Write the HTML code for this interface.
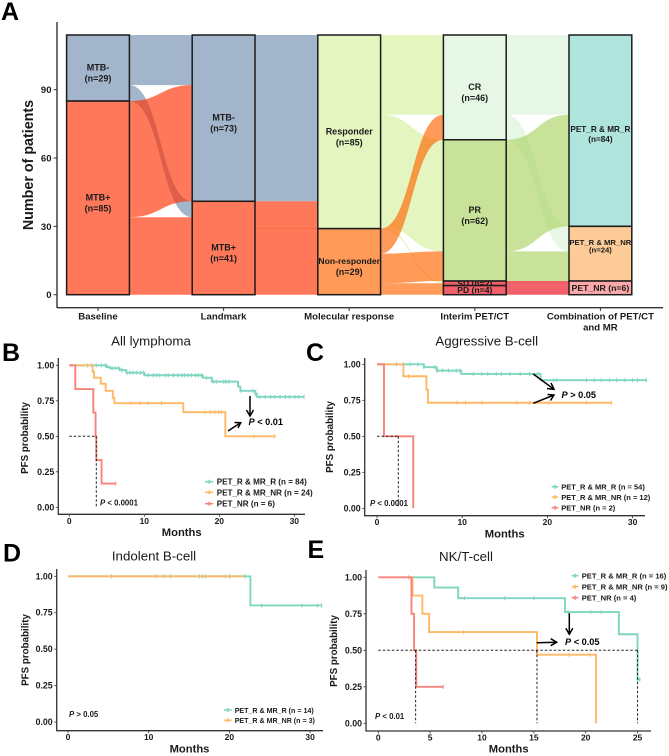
<!DOCTYPE html>
<html>
<head>
<meta charset="utf-8">
<style>
html,body{margin:0;padding:0;background:#fff;width:669px;height:756px;overflow:hidden}
svg{display:block;filter:blur(0.3px)}
text{font-family:"Liberation Sans",sans-serif;fill:#1a1a1a}
.b{font-weight:bold}
.panel{font-size:25px;font-weight:bold;fill:#000}
.title{font-size:13.3px;text-anchor:middle}
.mon{font-size:11.2px;font-weight:bold;text-anchor:middle}
.pfs{font-size:9.8px;font-weight:bold;text-anchor:middle}
.leg{font-size:8.1px;font-weight:bold}
.pv{font-size:7.8px;font-weight:bold}
.pb{font-size:9.2px;font-weight:bold;fill:#000}
.tk{font-size:9px;font-weight:bold}
.ax{font-size:9.6px;font-weight:bold;text-anchor:middle}
.arrow{fill:none;stroke:#000;stroke-width:1.5}
</style>
</head>
<body>
<svg id="fig" xmlns="http://www.w3.org/2000/svg" width="669" height="756" viewBox="0 0 669 756">
  <rect width="669" height="756" fill="#fff"/>

  <!-- Panel A -->
  <text class="panel" x="1" y="20">A</text>
  <g id="sankey"></g>
  <path d="M57 22V308M57 307.7H663" fill="none" stroke="#333" stroke-width="1.4"/>
  <text class="b" style="font-size:14.3px" text-anchor="middle" transform="translate(33,165) rotate(-90)">Number of patients</text>

  <!-- Panel B -->
  <text class="panel" x="2" y="361">B</text>
  <text class="title" x="151" y="345.5">All lymphoma</text>
  <g id="kmB"></g>
  <text class="pfs" transform="translate(28,438) rotate(-90)">PFS probability</text>
  <text class="mon" x="181.7" y="536">Months</text>
  <text class="pv" x="100" y="505.7"><tspan font-style="italic">P</tspan> &lt; 0.0001</text>
  <text class="pb" x="248.5" y="425"><tspan font-style="italic">P</tspan> &lt; 0.01</text>
  <path class="arrow" d="M250 396V416M246.5 410L250 416L253.500 410"/>
  <path class="arrow" d="M228 431L240.700 422.700M234.500 422.500L240.700 422.700L238 428"/>
  <g>
    <path d="M205 481.700H213.300M209.200 479.700V483.700" stroke="#7ed6c0" stroke-width="1.6"/>
    <text class="leg" x="216.700" y="484.700">PET_R &amp; MR_R (n = 84)</text>
    <path d="M205 492.300H213.300M209.200 490.300V494.300" stroke="#ffb866" stroke-width="1.6"/>
    <text class="leg" x="216.700" y="495.300">PET_R &amp; MR_NR (n = 24)</text>
    <path d="M205 503.700H213.300M209.200 501.700V505.700" stroke="#f8837a" stroke-width="1.6"/>
    <text class="leg" x="216.700" y="506.700">PET_NR (n = 6)</text>
  </g>

  <!-- Panel C -->
  <text class="panel" x="306" y="361">C</text>
  <text class="title" x="486.700" y="345.500">Aggressive B-cell</text>
  <g id="kmC"></g>
  <text class="pfs" transform="translate(333,437) rotate(-90)">PFS probability</text>
  <text class="mon" x="504.700" y="537.300">Months</text>
  <text class="pv" x="370" y="506"><tspan font-style="italic">P</tspan> &lt; 0.0001</text>
  <text class="pb" x="561.500" y="398"><tspan font-style="italic">P</tspan> &gt; 0.05</text>
  <path class="arrow" d="M533.300 374L554 389.300M547 388.500L554 389.300L551 383"/>
  <path class="arrow" d="M533.300 403.300L554 395M547.500 394.500L554 395L550.500 400.500"/>
  <g>
    <path d="M551.700 486.700H558.300M555 484.700V488.700" stroke="#7ed6c0" stroke-width="1.6"/>
    <text class="leg" style="font-size:7.500px" x="561.300" y="489.700">PET_R &amp; MR_R (n = 54)</text>
    <path d="M551.700 497H558.300M555 495V499" stroke="#ffb866" stroke-width="1.6"/>
    <text class="leg" style="font-size:7.500px" x="561.300" y="500">PET_R &amp; MR_NR (n = 12)</text>
    <path d="M551.700 507.700H558.300M555 505.700V509.700" stroke="#f8837a" stroke-width="1.6"/>
    <text class="leg" style="font-size:7.500px" x="561.300" y="510.700">PET_NR (n = 2)</text>
  </g>

  <!-- Panel D -->
  <text class="panel" x="3" y="561.500">D</text>
  <text class="title" x="154" y="560.500">Indolent B-cell</text>
  <g id="kmD"></g>
  <text class="pfs" transform="translate(28.500,650) rotate(-90)">PFS probability</text>
  <text class="mon" x="189.500" y="752.500">Months</text>
  <text class="pv" x="69" y="717"><tspan font-style="italic">P</tspan> &gt; 0.05</text>
  <g>
    <path d="M224 710H231.700M227.800 708V712" stroke="#7ed6c0" stroke-width="1.6"/>
    <text class="leg" style="font-size:7.100px" x="234.700" y="712.800">PET_R &amp; MR_R (n = 14)</text>
    <path d="M224 720.300H231.700M227.800 718.300V722.300" stroke="#ffb866" stroke-width="1.6"/>
    <text class="leg" style="font-size:7.100px" x="234.700" y="723.100">PET_R &amp; MR_NR (n = 3)</text>
  </g>

  <!-- Panel E -->
  <text class="panel" x="307.500" y="558">E</text>
  <text class="title" x="466" y="561">NK/T-cell</text>
  <g id="kmE"></g>
  <text class="pfs" transform="translate(337,651) rotate(-90)">PFS probability</text>
  <text class="mon" x="508.700" y="752.700">Months</text>
  <text class="pv" x="375" y="719"><tspan font-style="italic">P</tspan> &lt; 0.01</text>
  <text class="pb" x="565" y="645"><tspan font-style="italic">P</tspan> &lt; 0.05</text>
  <path class="arrow" d="M569.300 613.300V634.300M565.800 628.300L569.300 634.300L572.800 628.300"/>
  <path class="arrow" d="M536.700 642.700L556.700 642.200M550.700 638.700L556.700 642.200L550.700 645.700"/>
  <g>
    <path d="M571.700 575.700H578.300M575 573.700V577.700" stroke="#7ed6c0" stroke-width="1.6"/>
    <text class="leg" style="font-size:7.600px" x="581.700" y="578.500">PET_R &amp; MR_R (n = 16)</text>
    <path d="M571.700 586.700H578.300M575 584.700V588.700" stroke="#ffb866" stroke-width="1.6"/>
    <text class="leg" style="font-size:7.600px" x="581.700" y="589.500">PET_R &amp; MR_NR (n = 9)</text>
    <path d="M571.700 597.700H578.300M575 595.700V599.700" stroke="#f8837a" stroke-width="1.6"/>
    <text class="leg" style="font-size:7.600px" x="581.700" y="600.500">PET_NR (n = 4)</text>
  </g>
</svg>

<script>
/* ---------- Panel A data ---------- */
const sankeyAxes = ['Baseline', 'Landmark', 'Molecular response', 'Interim PET/CT', 'Combination of PET/CT|and MR'];
const sankeyTicks = [0, 30, 60, 90];
const baselineStrata = ['MTB-', 'MTB+'];
const baselineCounts = [29, 85];
const landmarkStrata = ['MTB-', 'MTB+'];
const landmarkCounts = [73, 41];
const molecularStrata = ['Responder', 'Non-responder'];
const molecularCounts = [85, 29];
const interimStrata = ['CR', 'PR', 'SD', 'PD'];
const interimCounts = [46, 62, 2, 4];
const comboStrata = ['PET_R & MR_R', 'PET_R & MR_NR', 'PET_NR'];
const comboCounts = [84, 24, 6];
const flowsBaselineLandmark = [['MTB-','MTB-',22], ['MTB-','MTB+',7], ['MTB+','MTB-',51], ['MTB+','MTB+',34]];
const flowsLandmarkMolecular = [['MTB-','Responder',73], ['MTB+','Responder',12], ['MTB+','Non-responder',29]];
const flowsMolecularInterim = [['Responder','CR',35], ['Responder','PR',49], ['Responder','SD',1], ['Non-responder','CR',11], ['Non-responder','PR',13], ['Non-responder','SD',1], ['Non-responder','PD',4]];
const flowsInterimCombo = [['CR','PET_R & MR_R',35], ['CR','PET_R & MR_NR',11], ['PR','PET_R & MR_R',49], ['PR','PET_R & MR_NR',13], ['SD','PET_NR',2], ['PD','PET_NR',4]];

/* ---------- Panel B data ---------- */
const kmTicksY = [0, 0.25, 0.5, 0.75, 1];
const kmTicksX = [0, 10, 20, 30];
const bTealTimes = [0, 5, 5.4, 6.7, 7.6, 10, 17.8, 19, 22.5, 22.8, 24.8, 25, 31.3];
const bTealSurv = [1, 0.988, 0.98, 0.966, 0.948, 0.93, 0.913, 0.885, 0.85, 0.82, 0.8, 0.778, 0.778];
const bTealCensor = [2.4,3,3.6,4.3,4.8,5.7,6.1,6.6,7,7.7,8.1,8.5,9,9.5,9.9,10.5,11.2,11.6,12,12.8,13.2,13.9,14.5,15,15.4,15.9,16.3,16.8,17.2,17.6,18.3,19.2,19.6,20.6,20.9,21.3,22.9,24.5,24.8,25.4,26.1,26.8,27.4,28.1,28.8,29.4,30.1,30.6,31.3];
const bOrangeTimes = [0, 3.1, 3.3, 4.2, 4.85, 5.8, 6, 15.2, 20.8, 27.5];
const bOrangeSurv = [1, 0.955, 0.913, 0.87, 0.82, 0.77, 0.733, 0.67, 0.5, 0.5];
const bOrangeCensor = [8.2,9.4,10.5,12.3,18.1,18.8,19.4,19.9,20.3,24.6,27.4];
const bRedTimes = [0, 0.8, 3.2, 3.5, 3.6, 4.3, 6.2];
const bRedSurv = [1, 0.833, 0.667, 0.5, 0.333, 0.167, 0.167];
const bRedCensor = [6.2];
const bMedians = [3.6];

/* ---------- Panel C data ---------- */
const cTealTimes = [0, 5.5, 7, 9.9, 19.2, 31.7];
const cTealSurv = [1, 0.98, 0.956, 0.933, 0.89, 0.89];
const cTealCensor = [2.3,3.1,3.9,4.8,5.5,6.8,7.1,7.7,8.4,9.3,9.7,11.3,12.3,13,14,14.6,15.6,16.8,17.9,18.9,20.7,21.1,24.6,25.5,26.3,27.3,28.1,29.1,30,30.6,31.6];
const cOrangeTimes = [0, 3.1, 5.8, 5.98, 27.6];
const cOrangeSurv = [1, 0.917, 0.824, 0.733, 0.733];
const cOrangeCensor = [3.7,9.4,10.4,12.3,16.4,17.9,20.1,24.6,27.5];
const cRedTimes = [0, 0.82, 4.25];
const cRedSurv = [1, 0.5, 0];
const cRedCensor = [];
const cMedians = [2.5];

/* ---------- Panel D data ---------- */
const dTealTimes = [0, 22.6, 31.5];
const dTealSurv = [1, 0.8, 0.8];
const dTealCensor = [5.4,10.9,11.9,12.7,16.3,16.7,17.1,19.5,20,21.9,24,29,30.9,31.4];
const dOrangeTimes = [0, 21.8];
const dOrangeSurv = [1, 1];
const dOrangeCensor = [];

/* ---------- Panel E data ---------- */
const eTicksX = [0, 5, 10, 15, 20, 25];
const eTealTimes = [2.8, 5.4, 7.7, 18, 23.2, 25, 25.3];
const eTealSurv = [1, 0.93, 0.857, 0.762, 0.61, 0.3, 0.3];
const eTealCensor = [8.3,12.2,15,18.3,20.5,21.5,25,25.2];
const eOrangeTimes = [2.9, 3.3, 4.25, 4.9, 15.3, 21];
const eOrangeSurv = [1, 0.875, 0.75, 0.625, 0.47, 0];
const eOrangeCensor = [2.9,8.2,18.4,20.4];
const eRedTimes = [0, 3.2, 3.45, 3.66, 6.27];
const eRedSurv = [1, 0.75, 0.5, 0.25, 0.25];
const eRedCensor = [6.27];
const eMedians = [3.6, 15.3, 25];

const NS = 'http://www.w3.org/2000/svg';
function mk(tag, parent) {
  const e = document.createElementNS(NS, tag);
  parent.appendChild(e);
  return e;
}
function slug(s) {
  return s.toLowerCase().replace(/[^a-z0-9]+/g, '-').replace(/^-|-$/g, '');
}

/* ---------- Panel A drawing ---------- */
const yA = v => 294.7 - 2.278 * v;
const xA = i => 98 + 125.6 * i;
const halfW = 31.4;
const fillOf = {
  'MTB-':'#708daf', 'MTB+':'#ff2f00', 'Responder':'#d5f09e', 'Non-responder':'#ff6400',
  'CR':'#d9f2d9', 'PR':'#aad364', 'SD':'#eb0a1a', 'PD':'#eb0a1a',
  'PET_R & MR_R':'#86d7cb', 'PET_R & MR_NR':'#fcaf61', 'PET_NR':'#fc7b7b'
};
const columns = [
  [baselineStrata, baselineCounts], [landmarkStrata, landmarkCounts], [molecularStrata, molecularCounts],
  [interimStrata, interimCounts], [comboStrata, comboCounts]
];
const flowSets = [flowsBaselineLandmark, flowsLandmarkMolecular, flowsMolecularInterim, flowsInterimCombo];
const sankey = document.getElementById('sankey');

function tops(col) {
  const total = col[1].reduce((a, b) => a + b, 0);
  const out = {};
  let t = total;
  col[0].forEach((n, i) => { out[n] = t; t -= col[1][i]; });
  return out;
}

flowSets.forEach((flows, i) => {
  const srcTop = tops(columns[i]);
  const dstTop = tops(columns[i + 1]);
  const x0 = xA(i) + halfW, x1 = xA(i + 1) - halfW, xm = (x0 + x1) / 2;
  flows.forEach(f => {
    const s0 = srcTop[f[0]], d0 = dstTop[f[1]];
    const s1 = s0 - f[2], d1 = d0 - f[2];
    srcTop[f[0]] = s1;
    dstTop[f[1]] = d1;
    const p = mk('path', sankey);
    p.setAttribute('d', 'M' + x0 + ' ' + yA(s0) + 'C' + xm + ' ' + yA(s0) + ' ' + xm + ' ' + yA(d0) + ' ' + x1 + ' ' + yA(d0) +
      'L' + x1 + ' ' + yA(d1) + 'C' + xm + ' ' + yA(d1) + ' ' + xm + ' ' + yA(s1) + ' ' + x0 + ' ' + yA(s1) + 'Z');
    p.setAttribute('fill', fillOf[f[0]]);
    p.setAttribute('fill-opacity', '0.65');
    
    
  });
});

const sepLine = mk('line', sankey);
sepLine.setAttribute('x1', xA(1) + halfW);
sepLine.setAttribute('x2', xA(2) - halfW);
sepLine.setAttribute('y1', yA(molecularCounts[1]));
sepLine.setAttribute('y2', yA(molecularCounts[1]));
sepLine.setAttribute('stroke', '#ff6a3c');
sepLine.setAttribute('stroke-width', '0.7');



function addLabel(txt, x, y, size) {
  const t = mk('text', sankey);
  t.textContent = txt;
  t.setAttribute('x', x);
  t.setAttribute('y', y);
  t.setAttribute('text-anchor', 'middle');
  t.setAttribute('font-weight', 'bold');
  t.setAttribute('font-size', size);
  
  
}

columns.forEach((col, i) => {
  const total = col[1].reduce((a, b) => a + b, 0);
  let t = total;
  col[0].forEach((name, j) => {
    const n = col[1][j];
    const r = mk('rect', sankey);
    r.setAttribute('x', xA(i) - halfW);
    r.setAttribute('y', yA(t));
    r.setAttribute('width', halfW * 2);
    r.setAttribute('height', yA(t - n) - yA(t));
    r.setAttribute('fill', '#fff');
    
    
    const c = mk('rect', sankey);
    c.setAttribute('x', xA(i) - halfW);
    c.setAttribute('y', yA(t));
    c.setAttribute('width', halfW * 2);
    c.setAttribute('height', yA(t - n) - yA(t));
    c.setAttribute('fill', fillOf[name]);
    c.setAttribute('fill-opacity', '0.65');
    c.setAttribute('stroke', '#1c1c1c');
    c.setAttribute('stroke-width', '1.5');
    
    
    const cy = yA(t - n / 2);
    const lbl = '(n=' + n + ')';
    if (name === 'PET_R & MR_NR') {
      addLabel(name, xA(i), cy - 8.5, 7.7);
      addLabel(lbl, xA(i), cy - 1, 7.7);
    } else if (name === 'PET_R & MR_R') {
      addLabel(name, xA(i), cy + 1.5, 8.2);
      addLabel(lbl, xA(i), cy + 11.5, 8.2);
    } else if (name === 'SD' || name === 'PD' || name === 'PET_NR') {
      addLabel(name + ' ' + lbl, xA(i), cy + 3, name === 'PET_NR' ? 8.7 : 8.6);
    } else {
      addLabel(name, xA(i), cy + 2.5, name === 'Non-responder' ? 8.6 : 9);
      addLabel(lbl, xA(i), cy + 13.5, 9);
    }
    t -= n;
  });
});

sankeyTicks.forEach(v => {
  const m = mk('line', sankey);
  m.setAttribute('x1', 53.5);
  m.setAttribute('x2', 57);
  m.setAttribute('y1', yA(v));
  m.setAttribute('y2', yA(v));
  m.setAttribute('stroke', '#333');
  m.setAttribute('stroke-width', '1');
  
  
  const l = mk('text', sankey);
  l.textContent = v;
  l.setAttribute('x', 51.5);
  l.setAttribute('y', yA(v) + 3.5);
  l.setAttribute('text-anchor', 'end');
  l.setAttribute('class', 'tk');
  l.setAttribute('style', 'font-size:9.5px');
  
  
});
sankeyAxes.forEach((name, i) => {
  const m = mk('line', sankey);
  m.setAttribute('x1', xA(i));
  m.setAttribute('x2', xA(i));
  m.setAttribute('y1', 307.7);
  m.setAttribute('y2', 311);
  m.setAttribute('stroke', '#333');
  m.setAttribute('stroke-width', '1');
  
  
  name.split('|').forEach((part, k) => {
    const l = mk('text', sankey);
    l.textContent = part;
    l.setAttribute('x', xA(i));
    l.setAttribute('y', 319.5 + k * 11);
    l.setAttribute('class', 'ax');
    
    
  });
});

/* ---------- KM drawing ---------- */
const TEAL = '#7ed6c0', ORANGE = '#ffb866', RED = '#f8837a';

function stepPath(x, y, times, surv) {
  let d = 'M' + x(times[0]) + ' ' + y(surv[0]);
  for (let i = 1; i < times.length; i++) {
    d += 'H' + x(times[i]) + 'V' + y(surv[i]);
  }
  return d;
}

function drawCurve(g, x, y, name, color, times, surv, censor) {
  const p = mk('path', g);
  p.setAttribute('d', stepPath(x, y, times, surv));
  p.setAttribute('fill', 'none');
  p.setAttribute('stroke', color);
  p.setAttribute('stroke-width', '1.9');
  
  
  censor.forEach(t => {
    let s = surv[0];
    for (let i = 0; i < times.length; i++) { if (times[i] <= t) s = surv[i]; }
    const c = mk('path', g);
    c.setAttribute('d', 'M' + x(t) + ' ' + (y(s) - 2.2) + 'V' + (y(s) + 2.2));
    c.setAttribute('stroke', color);
    c.setAttribute('stroke-width', '0.9');
    
    
  });
}

function drawAxes(g, x, y, box, ticksX, ticksY) {
  const a = mk('path', g);
  a.setAttribute('d', 'M' + box.left + ' ' + box.top + 'V' + box.bottom + 'H' + box.right);
  a.setAttribute('fill', 'none');
  a.setAttribute('stroke', '#333');
  a.setAttribute('stroke-width', '1.3');
  
  
  ticksX.forEach(v => {
    const m = mk('line', g);
    m.setAttribute('x1', x(v));
    m.setAttribute('x2', x(v));
    m.setAttribute('y1', box.bottom);
    m.setAttribute('y2', box.bottom + 2.5);
    m.setAttribute('stroke', '#333');
    m.setAttribute('stroke-width', '0.8');
    
    
    const l = mk('text', g);
    l.textContent = v;
    l.setAttribute('x', x(v));
    l.setAttribute('y', box.bottom + 9.5);
    l.setAttribute('text-anchor', 'middle');
    l.setAttribute('class', 'tk');
    l.setAttribute('style', 'font-size:8.5px');
    
    
  });
  ticksY.forEach(v => {
    const m = mk('line', g);
    m.setAttribute('x1', box.left - 2.5);
    m.setAttribute('x2', box.left);
    m.setAttribute('y1', y(v));
    m.setAttribute('y2', y(v));
    m.setAttribute('stroke', '#333');
    m.setAttribute('stroke-width', '0.8');
    
    
    const l = mk('text', g);
    l.textContent = v.toFixed(2);
    l.setAttribute('x', box.left - 4);
    l.setAttribute('y', y(v) + 3);
    l.setAttribute('text-anchor', 'end');
    l.setAttribute('class', 'tk');
    l.setAttribute('style', 'font-size:8.8px');
    
    
  });
}

function drawMedian(g, x, y, medians) {
  const last = Math.max.apply(null, medians);
  const h = mk('line', g);
  h.setAttribute('x1', x(0));
  h.setAttribute('x2', x(last));
  h.setAttribute('y1', y(0.5));
  h.setAttribute('y2', y(0.5));
  h.setAttribute('stroke', '#222');
  h.setAttribute('stroke-width', '1');
  h.setAttribute('stroke-dasharray', '2.5 2');
  
  
  medians.forEach(t => {
    const v = mk('line', g);
    v.setAttribute('x1', x(t));
    v.setAttribute('x2', x(t));
    v.setAttribute('y1', y(0.5));
    v.setAttribute('y2', y(0));
    v.setAttribute('stroke', '#222');
    v.setAttribute('stroke-width', '1');
    v.setAttribute('stroke-dasharray', '2.5 2');
    
    
  });
}

const xB = m => 69.3 + 7.5 * m, yB = s => 507.3 - 142 * s;
const gB = document.getElementById('kmB');
drawAxes(gB, xB, yB, {left:58.3, top:358, bottom:514.3, right:305}, kmTicksX, kmTicksY);
drawCurve(gB, xB, yB, 'pet-r-mr-r', TEAL, bTealTimes, bTealSurv, bTealCensor);
drawCurve(gB, xB, yB, 'pet-r-mr-nr', ORANGE, bOrangeTimes, bOrangeSurv, bOrangeCensor);
drawCurve(gB, xB, yB, 'pet-nr', RED, bRedTimes, bRedSurv, bRedCensor);
drawMedian(gB, xB, yB, bMedians);

const xC = m => 377 + 8.52 * m, yC = s => 508.3 - 144 * s;
const gC = document.getElementById('kmC');
drawAxes(gC, xC, yC, {left:364.7, top:358, bottom:515.7, right:645}, kmTicksX, kmTicksY);
drawCurve(gC, xC, yC, 'pet-r-mr-r', TEAL, cTealTimes, cTealSurv, cTealCensor);
drawCurve(gC, xC, yC, 'pet-r-mr-nr', ORANGE, cOrangeTimes, cOrangeSurv, cOrangeCensor);
drawCurve(gC, xC, yC, 'pet-nr', RED, cRedTimes, cRedSurv, cRedCensor);
drawMedian(gC, xC, yC, cMedians);

const xD = m => 68 + 8.07 * m, yD = s => 722 - 145.7 * s;
const gD = document.getElementById('kmD');
drawAxes(gD, xD, yD, {left:56.7, top:569, bottom:730.7, right:323}, kmTicksX, kmTicksY);
drawCurve(gD, xD, yD, 'pet-r-mr-r', TEAL, dTealTimes, dTealSurv, dTealCensor);
drawCurve(gD, xD, yD, 'pet-r-mr-nr', ORANGE, dOrangeTimes, dOrangeSurv, dOrangeCensor);

const xE = m => 378.3 + 10.37 * m, yE = s => 723.3 - 146 * s;
const gE = document.getElementById('kmE');
drawAxes(gE, xE, yE, {left:366, top:570, bottom:731, right:651}, eTicksX, kmTicksY);
drawCurve(gE, xE, yE, 'pet-r-mr-r', TEAL, eTealTimes, eTealSurv, eTealCensor);
drawCurve(gE, xE, yE, 'pet-r-mr-nr', ORANGE, eOrangeTimes, eOrangeSurv, eOrangeCensor);
drawCurve(gE, xE, yE, 'pet-nr', RED, eRedTimes, eRedSurv, eRedCensor);
drawMedian(gE, xE, yE, eMedians);
</script>
</body>
</html>
